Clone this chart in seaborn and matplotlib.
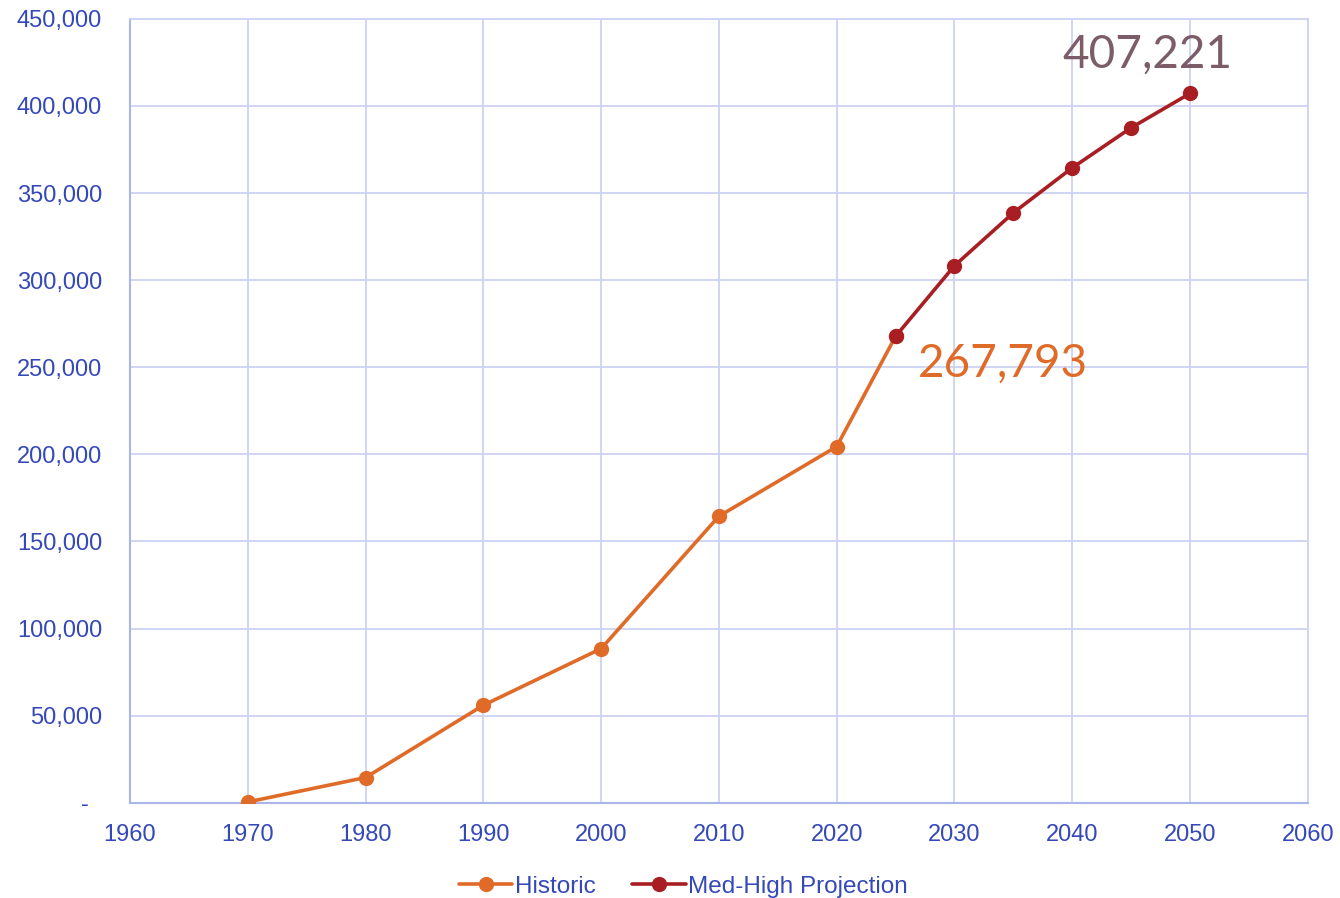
import matplotlib
matplotlib.use("Agg")
import matplotlib.pyplot as plt
import matplotlib.ticker as mticker
from matplotlib.lines import Line2D
import pandas as pd
import seaborn as sns

# Values
hist_years = [1970, 1980, 1990, 2000, 2010, 2020, 2025]
hist_values = [500, 14500, 56000, 88500, 164500, 204500, 267793]

proj_years = [2025, 2030, 2035, 2040, 2045, 2050]
proj_values = [267793, 308300, 338700, 364500, 387500, 407221]

series_names = ["Historic", "Med-High Projection"]
x_ticks = list(range(1960, 2061, 10))
y_ticks = list(range(0, 450001, 50000))

orange = "#e06b28"
red = "#a81e23"
tick_blue = "#3448b8"
grid_blue = "#cdd3f2"
spine_blue = "#aab5ea"

hist = pd.DataFrame({"year": hist_years, "value": hist_values})
proj = pd.DataFrame({"year": proj_years, "value": proj_values})

sns.set_style("white")
plt.rcParams["font.family"] = ["Liberation Sans", "DejaVu Sans"]

fig, ax = plt.subplots(figsize=(13.4, 8.98), dpi=100)
fig.subplots_adjust(left=0.097, right=0.976, top=0.979, bottom=0.106)

sns.lineplot(data=hist, x="year", y="value", color=orange, linewidth=2.6,
             marker="o", markersize=11, markeredgewidth=0, ax=ax, zorder=3)
sns.lineplot(data=proj, x="year", y="value", color=red, linewidth=2.6,
             marker="o", markersize=11, markeredgewidth=0, ax=ax, zorder=4)

ax.set_xlim(1960, 2060)
ax.set_ylim(0, 450000)
ax.set_xticks(x_ticks)
ax.set_yticks(y_ticks)
ax.yaxis.set_major_formatter(
    mticker.FuncFormatter(lambda v, p: "-  " if v == 0 else f"{int(v):,}"))
ax.set_xlabel("")
ax.set_ylabel("")

ax.grid(True, color=grid_blue, linewidth=1.3)
ax.set_axisbelow(True)
for side in ["top", "right"]:
    ax.spines[side].set_color(grid_blue)
    ax.spines[side].set_linewidth(1.3)
for side in ["left", "bottom"]:
    ax.spines[side].set_color(spine_blue)
    ax.spines[side].set_linewidth(1.5)

ax.tick_params(axis="both", length=0, labelsize=17, labelcolor=tick_blue)
ax.tick_params(axis="x", pad=15)
ax.tick_params(axis="y", pad=20)

# data labels
ax.annotate(f"{hist_values[-1]:,}", xy=(hist_years[-1], hist_values[-1]),
            xytext=(16, -20), textcoords="offset points", ha="left", va="center",
            fontsize=33, color=orange, family=["Lato", "DejaVu Sans"])
ax.annotate(f"{proj_values[-1]:,}", xy=(proj_years[-1], proj_values[-1]),
            xytext=(-31, 28), textcoords="offset points", ha="center", va="center",
            fontsize=33, color="#7b5c68", family=["Lato", "DejaVu Sans"])

handles = [
    Line2D([], [], color=orange, linewidth=2.6, marker="o", markersize=11,
           markeredgewidth=0),
    Line2D([], [], color=red, linewidth=2.6, marker="o", markersize=11,
           markeredgewidth=0),
]
leg = fig.legend(handles, series_names, loc="lower center", ncol=2,
                 bbox_to_anchor=(0.51, -0.024), frameon=False, fontsize=17.5,
                 handlelength=2.2, handletextpad=0.1, columnspacing=1.5)
for t in leg.get_texts():
    t.set_color(tick_blue)

fig.savefig("out.png", dpi=100)
